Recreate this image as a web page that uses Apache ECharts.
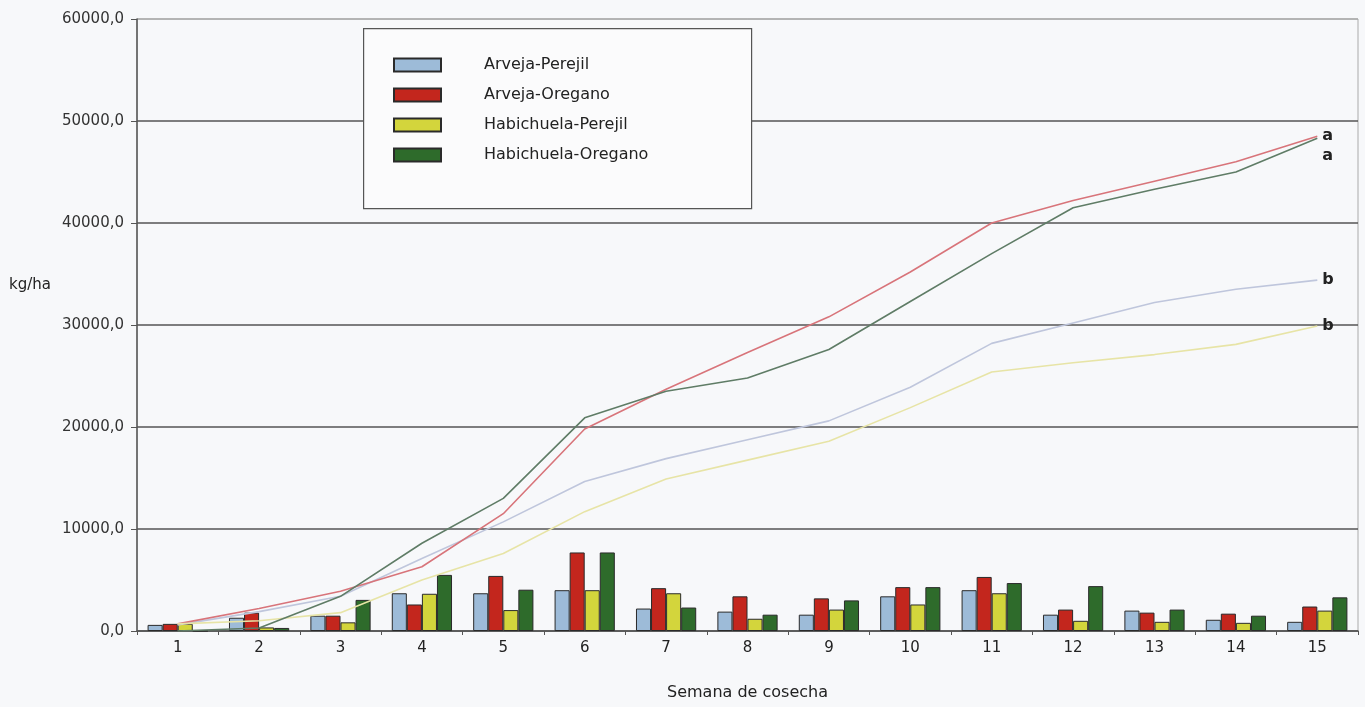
<!DOCTYPE html>
<html>
<head>
<meta charset="utf-8">
<title>Rendimiento semanal y acumulado</title>
<script src="https://cdn.jsdelivr.net/npm/echarts@6/dist/echarts.min.js"></script>
<style>
  html, body { margin: 0; padding: 0; background: #f7f8fa; }
  #chart { width: 1365px; height: 707px; }
</style>
</head>
<body>
<div id="chart"></div>
<script>
// Harvest weeks
const weeks = ['1','2','3','4','5','6','7','8','9','10','11','12','13','14','15'];

// Treatment names
const names = ['Arveja-Perejil', 'Arveja-Oregano', 'Habichuela-Perejil', 'Habichuela-Oregano'];

// Weekly yield (kg/ha), bars
const weeklyArvejaPerejil     = [600, 1300, 1500, 3700, 3700, 4000, 2200, 1900, 1600, 3400, 4000, 1600, 2000, 1100, 900];
const weeklyArvejaOregano     = [700, 1800, 1500, 2600, 5400, 7700, 4200, 3400, 3200, 4300, 5300, 2100, 1800, 1700, 2400];
const weeklyHabichuelaPerejil = [700, 350, 850, 3650, 2050, 4000, 3700, 1200, 2100, 2600, 3700, 1000, 900, 800, 2000];
const weeklyHabichuelaOregano = [0, 300, 3050, 5500, 4050, 7700, 2300, 1600, 3000, 4300, 4700, 4400, 2100, 1500, 3300];

// Cumulative yield (kg/ha), lines
const cumArvejaPerejil     = [600, 1900, 3400, 7100, 10700, 14650, 16900, 18750, 20600, 23900, 28200, 30200, 32200, 33500, 34400];
const cumArvejaOregano     = [700, 2200, 3900, 6300, 11500, 19800, 23700, 27300, 30800, 35200, 40000, 42200, 44100, 46000, 48500];
const cumHabichuelaPerejil = [700, 1000, 1800, 5000, 7600, 11700, 14900, 16750, 18600, 21900, 25400, 26300, 27100, 28100, 29900];
const cumHabichuelaOregano = [0, 300, 3400, 8600, 13000, 20900, 23500, 24800, 27600, 32300, 37000, 41500, 43300, 45000, 48300];

// Significance letters at the end of each cumulative curve
const endLetters = ['b', 'a', 'b', 'a'];

const weekly = [weeklyArvejaPerejil, weeklyArvejaOregano, weeklyHabichuelaPerejil, weeklyHabichuelaOregano];
const cumulative = [cumArvejaPerejil, cumArvejaOregano, cumHabichuelaPerejil, cumHabichuelaOregano];

const barColors  = ['#9dbbd8', '#c3261d', '#d3d53c', '#2e6b2b'];
const lineColors = ['#bfc6dc', '#d8747a', '#e7e4a6', '#5f7c66'];
const letterOffsets = [[0, 0], [0, 0], [0, 0], [0, 18]];

const font = '"DejaVu Sans", Arial, sans-serif';

const chart = echarts.init(document.getElementById('chart'));

const barSeries = names.map((n, i) => ({
  name: n,
  type: 'bar',
  data: weekly[i],
  barGap: '0%',
  barCategoryGap: '26%',
  itemStyle: { color: barColors[i], borderColor: '#2a2a2a', borderWidth: 1 },
  z: 2
}));

const lineSeries = names.map((n, i) => ({
  name: n + ' (acumulado)',
  type: 'line',
  data: cumulative[i],
  showSymbol: false,
  symbol: 'none',
  lineStyle: { color: lineColors[i], width: 1.6 },
  z: 3,
  endLabel: {
    show: true,
    formatter: endLetters[i],
    distance: 5,
    offset: letterOffsets[i],
    color: '#222',
    fontFamily: font,
    fontSize: 16,
    fontWeight: 'bold'
  }
}));

chart.setOption({
  backgroundColor: '#f7f8fa',
  animation: false,
  textStyle: { fontFamily: font },
  grid: {
    left: 137, right: 7, top: 19, bottom: 76,
    outerBoundsMode: 'none',
    containLabel: false,
    show: true, borderColor: '#aaaaaa', borderWidth: 1
  },
  legend: {
    data: names,
    orient: 'vertical',
    icon: 'rect',
    left: 393, top: 57,
    padding: 0,
    itemWidth: 47, itemHeight: 13, itemGap: 14,
    textStyle: { color: '#222', fontSize: 16, fontFamily: font, padding: [0, 0, 0, 38] },
    selectedMode: false
  },
  graphic: [
    {
      type: 'rect',
      left: 363, top: 28,
      shape: { width: 388, height: 180 },
      style: { fill: '#fbfbfc', stroke: '#555', lineWidth: 1.2 },
      z: 1
    },
    {
      type: 'text',
      left: 9, top: 278,
      style: { text: 'kg/ha', fill: '#222', font: '15px ' + font }
    }
  ],
  xAxis: {
    type: 'category',
    data: weeks,
    name: 'Semana de cosecha',
    nameLocation: 'middle',
    nameGap: 54,
    nameTextStyle: { color: '#222', fontSize: 16, fontFamily: font },
    axisLine: { lineStyle: { color: '#555', width: 1.5 } },
    axisTick: { show: true, inside: false, length: 4, lineStyle: { color: '#555' } },
    axisLabel: { color: '#222', fontSize: 15, margin: 10, fontFamily: font }
  },
  yAxis: {
    type: 'value',
    min: 0, max: 60000, interval: 10000,
    axisLine: { show: true, lineStyle: { color: '#555', width: 1.5 } },
    axisTick: { show: true, length: 6, lineStyle: { color: '#555' } },
    axisLabel: {
      color: '#333', fontSize: 15, margin: 13, fontFamily: font,
      formatter: v => v.toFixed(1).replace('.', ',')
    },
    splitLine: {
      show: true,
      lineStyle: { color: ['#555', '#555', '#555', '#555', '#555', '#555', '#aaaaaa'], width: 1.6 }
    }
  },
  series: [...barSeries, ...lineSeries]
});
</script>
</body>
</html>
